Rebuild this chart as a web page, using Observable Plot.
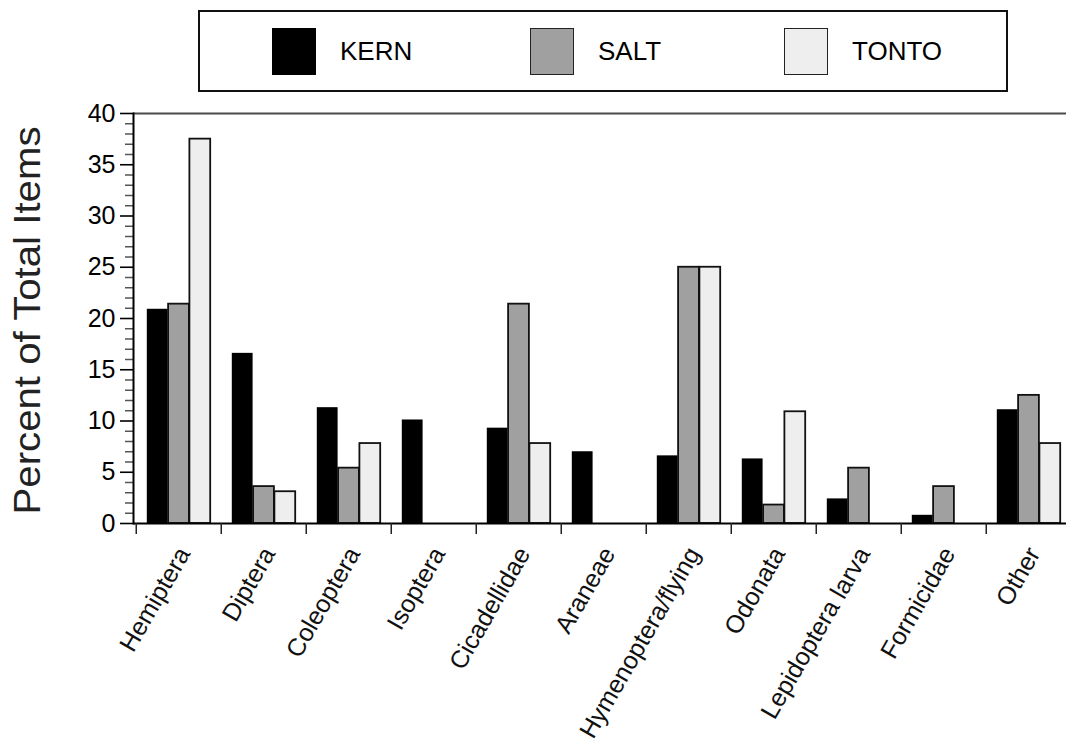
<!DOCTYPE html>
<html>
<head>
<meta charset="utf-8">
<script src="https://cdn.jsdelivr.net/npm/d3@7"></script>
<script src="https://cdn.jsdelivr.net/npm/@observablehq/plot@0.6"></script>
<style>
  html, body { margin: 0; padding: 0; background: #fff; width: 1066px; height: 745px; overflow: hidden; }
  #wrap { position: relative; width: 1066px; height: 745px; font-family: "Liberation Sans", Arial, sans-serif; }
  #legend { position: absolute; left: 198px; top: 10px; width: 806px; height: 78px; border: 2px solid #111; background: #fff; z-index: 2; }
  .item { position: absolute; top: 16px; height: 47px; }
  .sw { position: absolute; left: 0; top: 0; width: 44px; height: 47px; box-sizing: border-box; }
  .lb { position: absolute; left: 68px; top: 8px; font-size: 26px; line-height: 30px; color: #000; white-space: nowrap; }
</style>
</head>
<body>
<div id="wrap"><div id="legend"></div></div>
<script>
// ---- data ----
const categories = ["Hemiptera", "Diptera", "Coleoptera", "Isoptera", "Cicadellidae", "Araneae",
                    "Hymenoptera/flying", "Odonata", "Lepidoptera larva", "Formicidae", "Other"];
const series = ["KERN", "SALT", "TONTO"];
const kern  = [20.9, 16.6, 11.3, 10.1, 9.3, 7.0, 6.6, 6.3, 2.4, 0.8, 11.1];
const salt  = [21.4, 3.6, 5.4, 0, 21.4, 0, 25.0, 1.8, 5.4, 3.6, 12.5];
const tonto = [37.5, 3.1, 7.8, 0, 7.8, 0, 25.0, 10.9, 0, 0, 7.8];
const yMajorTicks = [0, 5, 10, 15, 20, 25, 30, 35, 40];
const yMinorTicks = [1,2,3,4,6,7,8,9,11,12,13,14,16,17,18,19,21,22,23,24,26,27,28,29,31,32,33,34,36,37,38,39];
const yTitle = "Percent of Total Items";

// ---- styling ----
const fills = {KERN: "#000000", SALT: "#a0a0a0", TONTO: "#eeeeee"};
const strokes = {KERN: "#000000", SALT: "#111111", TONTO: "#111111"};
const font = "'Liberation Sans', Arial, sans-serif";

const valuesBySeries = {KERN: kern, SALT: salt, TONTO: tonto};
const table = series.flatMap(s => categories.map((c, i) => ({category: c, series: s, value: valuesBySeries[s][i]})));

const W = 1066, H = 745;
const mL = 133, mT = 113, mB = 222;
const xRange = [mL, 1073.5];
const bw = (xRange[1] - xRange[0]) / categories.length;
const barW = 21.3;
const inset = (bw - barW) / 2;

const barMarks = series.map((s, k) => Plot.barY(table.filter(d => d.series === s && d.value > 0), {
  x: "category", y: "value",
  fill: fills[s], stroke: strokes[s], strokeWidth: s === "KERN" ? 0 : 1.8,
  insetLeft: inset, insetRight: inset, dx: (k - 1) * barW
}));

const chart = Plot.plot({
  width: W, height: H,
  marginLeft: mL, marginRight: 0, marginTop: mT, marginBottom: mB,
  style: {fontFamily: font, background: "transparent", overflow: "visible"},
  x: {domain: categories, range: xRange, padding: 0, label: null},
  y: {domain: [0, 40], label: null},
  marks: [
    ...barMarks,
    Plot.ruleY([40], {stroke: "#4a4a4a", strokeWidth: 2.2}),
    Plot.ruleY([0], {stroke: "#000", strokeWidth: 2}),
    Plot.axisY({ticks: yMinorTicks, tickSize: 8, text: null, label: null, stroke: "#555", strokeWidth: 1.5, strokeOpacity: 1}),
    Plot.axisY({ticks: yMajorTicks, tickSize: 13, tickPadding: 5, fontSize: 25, label: null, stroke: "#000", strokeWidth: 1.6, strokeOpacity: 1, fill: "#000"}),
    Plot.axisX({tickSize: 11, text: null, label: null, dx: -bw / 2, stroke: "#222", strokeWidth: 1.5, strokeOpacity: 1}),
    Plot.frame({anchor: "left", stroke: "#000", strokeWidth: 2}),
    Plot.text(categories, {x: d => d, frameAnchor: "bottom", rotate: -60, textAnchor: "end", lineAnchor: "bottom",
      dx: 12, dy: 30, fontSize: 25, fill: "#111"}),
    Plot.text([yTitle], {frameAnchor: "left", rotate: -90, textAnchor: "middle", lineAnchor: "bottom",
      dx: -94, dy: 2, fontSize: 36, fill: "#222"})
  ]
});

// stretch y-axis title to match the reference's spacing
d3.select(chart).selectAll("text").filter(function() { return this.textContent === yTitle; })
  .attr("textLength", 388).attr("lengthAdjust", "spacingAndGlyphs");

d3.select(chart).style("position", "absolute").style("left", "0px").style("top", "0px");
document.getElementById("wrap").appendChild(chart);

// ---- legend ----
const legendLeft = [72, 330, 584];
const legend = d3.select("#legend");
series.forEach((s, i) => {
  const item = legend.append("div").attr("class", "item").style("left", legendLeft[i] + "px");
  item.append("div").attr("class", "sw")
    .style("background", fills[s])
    .style("border", s === "KERN" ? "none" : "1.5px solid #222");
  item.append("div").attr("class", "lb").text(s);
});
</script>
</body>
</html>
